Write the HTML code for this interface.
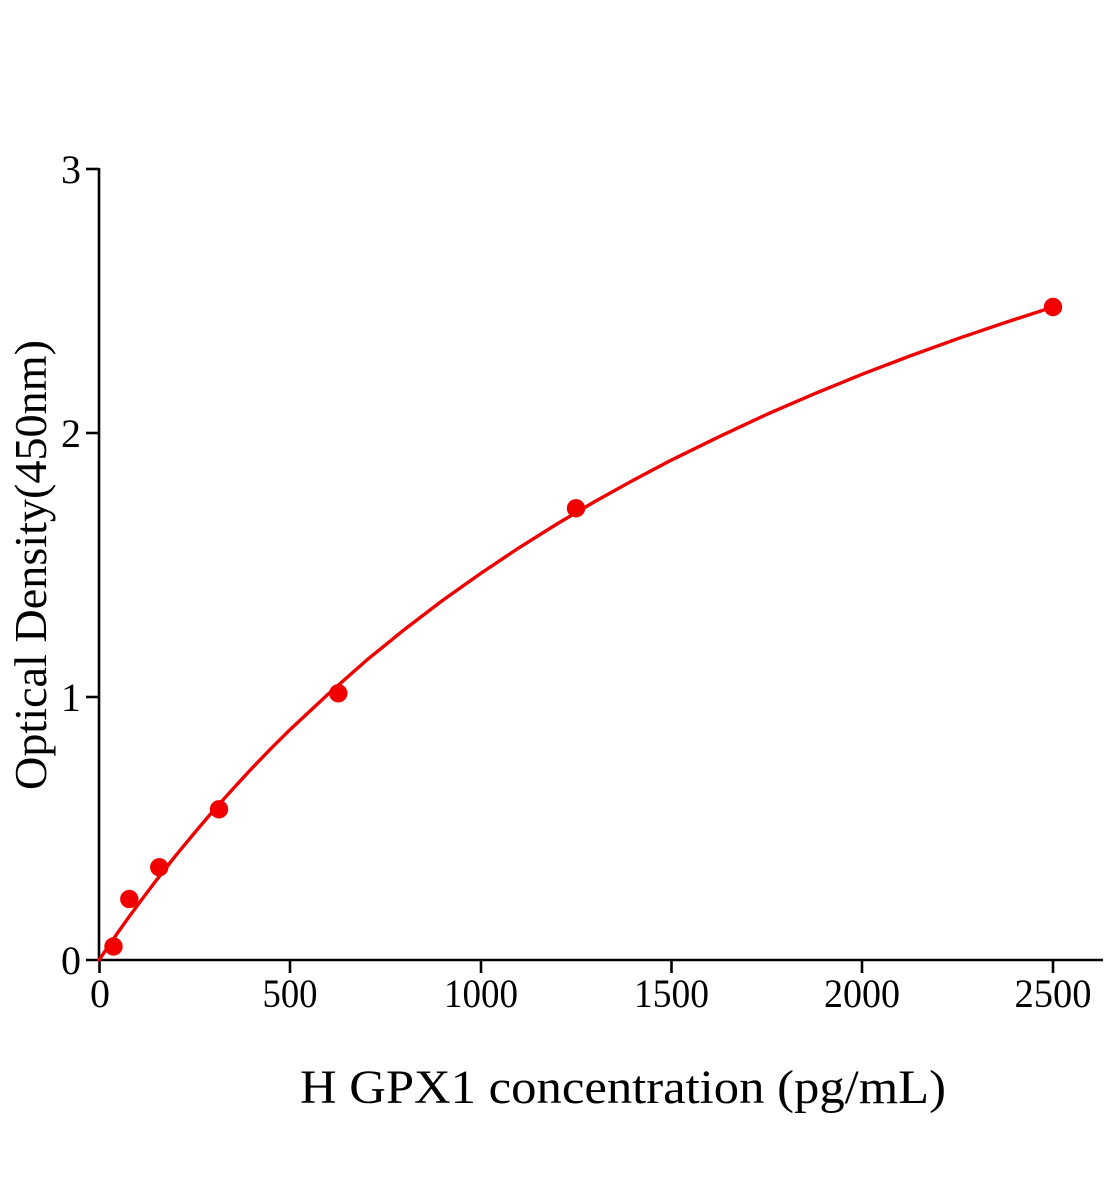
<!DOCTYPE html>
<html>
<head>
<meta charset="utf-8">
<style>
  html,body{margin:0;padding:0;background:#fff;}
  svg{display:block;}
  text{font-family:"Liberation Serif","Times New Roman",serif;fill:#000;}
</style>
</head>
<body>
<svg width="1104" height="1200" viewBox="0 0 1104 1200" xmlns="http://www.w3.org/2000/svg">
  <rect width="1104" height="1200" fill="#fff"/>
  <!-- axes -->
  <g stroke="#000" stroke-width="2.6" fill="none">
    <line x1="99" y1="168" x2="99" y2="961"/>
    <line x1="86" y1="960" x2="1103" y2="960"/>
    <!-- y ticks -->
    <line x1="86" y1="169" x2="99" y2="169"/>
    <line x1="86" y1="433" x2="99" y2="433"/>
    <line x1="86" y1="697" x2="99" y2="697"/>
    <!-- x ticks -->
    <line x1="99.5" y1="960" x2="99.5" y2="973"/>
    <line x1="290" y1="960" x2="290" y2="973"/>
    <line x1="481" y1="960" x2="481" y2="973"/>
    <line x1="671.5" y1="960" x2="671.5" y2="973"/>
    <line x1="862" y1="960" x2="862" y2="973"/>
    <line x1="1053" y1="960" x2="1053" y2="973"/>
  </g>
  <!-- y tick labels -->
  <g font-size="40" text-anchor="end">
    <text x="81" y="183">3</text>
    <text x="81" y="447">2</text>
    <text x="81" y="711">1</text>
    <text x="81" y="974">0</text>
  </g>
  <!-- x tick labels -->
  <g font-size="40">
    <text x="100" y="1007" text-anchor="middle">0</text>
    <text x="262.5" y="1007" textLength="55" lengthAdjust="spacingAndGlyphs">500</text>
    <text x="444" y="1007" textLength="74" lengthAdjust="spacingAndGlyphs">1000</text>
    <text x="634" y="1007" textLength="75" lengthAdjust="spacingAndGlyphs">1500</text>
    <text x="824" y="1007" textLength="76" lengthAdjust="spacingAndGlyphs">2000</text>
    <text x="1014.5" y="1007" textLength="77" lengthAdjust="spacingAndGlyphs">2500</text>
  </g>
  <!-- axis titles -->
  <text x="300" y="1103" font-size="48" textLength="646" lengthAdjust="spacingAndGlyphs">H GPX1 concentration (pg/mL)</text>
  <text transform="translate(46,790) rotate(-90)" x="0" y="0" font-size="46" textLength="450" lengthAdjust="spacingAndGlyphs">Optical Density(450nm)</text>
  <!-- fitted curve -->
  <polyline fill="none" stroke="#ee0000" stroke-width="3.4" stroke-linejoin="round" stroke-linecap="round"
    points="99,960 103.8,953 108.54,945.95 118.08,932.22 127.6,918.8 137.16,905.69 156.24,880.32 175.33,856.05 194.4,833 213.49,810.51 232.6,789.2 251.65,768.58 270.7,748.8 289.82,729.84 328,694.3 366.14,660.6 404.3,629.6 442.47,600.51 480.6,573.5 518.79,547.88 556.9,524 595.12,501.4 633.3,480.2 671.45,460.05 719.2,436.7 766.85,414.37 814.6,393.7 862.26,374.22 909.9,356 957.67,338.67 1005.4,322.5 1053.08,306.95"/>
  <!-- data points -->
  <g fill="#f20000">
    <circle cx="113.5" cy="946.5" r="9.2"/>
    <circle cx="129.3" cy="899" r="9.2"/>
    <circle cx="159.3" cy="867.3" r="9.2"/>
    <circle cx="219" cy="809.3" r="9.2"/>
    <circle cx="338.3" cy="693.3" r="9.2"/>
    <circle cx="576" cy="508.3" r="9.2"/>
    <circle cx="1053" cy="307" r="9.2"/>
  </g>
</svg>
</body>
</html>
